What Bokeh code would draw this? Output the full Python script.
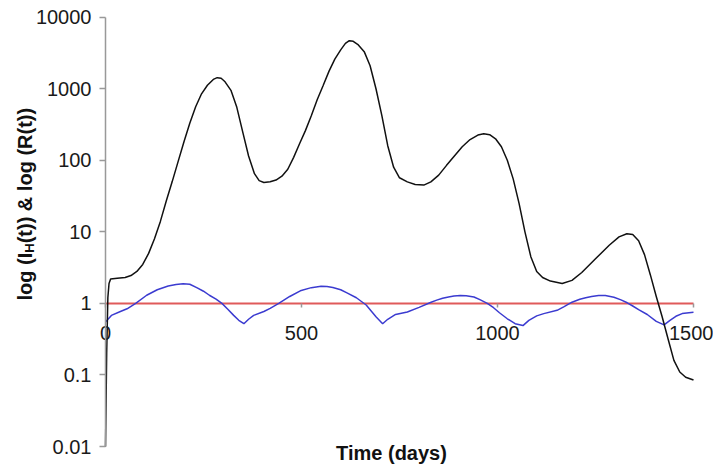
from bokeh.plotting import figure
from bokeh.models import Range1d, FixedTicker, Label
from bokeh.embed import file_html
from bokeh.resources import INLINE

# ---- data ----
t_ih = [0, 3, 6, 9, 13, 30, 50, 65, 80, 95, 110, 125, 140, 155, 170, 185, 200, 215,
        230, 245, 260, 275, 285, 295, 305, 320, 335, 350, 365, 380, 392, 404, 420, 435,
        450, 465, 480, 495, 510, 525, 540, 555, 570, 585, 600, 612, 622, 632, 645, 660,
        675, 690, 705, 720, 735, 750, 770, 790, 812, 830, 850, 870, 890, 910, 930, 950,
        965, 980, 995, 1010, 1025, 1040, 1055, 1070, 1085, 1100, 1115, 1135, 1165, 1190,
        1215, 1250, 1285, 1310, 1330, 1345, 1360, 1375, 1390, 1405, 1420, 1435, 1450,
        1465, 1480, 1500]
ih = [0.01, 0.2, 1.2, 1.9, 2.2, 2.25, 2.3, 2.45, 2.8, 3.5, 5.0, 8.0, 14, 27, 50, 95,
      180, 330, 560, 850, 1120, 1350, 1430, 1400, 1250, 950, 550, 250, 115, 65, 52, 49,
      50, 53, 60, 75, 110, 170, 260, 420, 700, 1100, 1750, 2600, 3500, 4300, 4700, 4600,
      4100, 3300, 2100, 1000, 420, 160, 80, 57, 50, 46, 45, 50, 62, 85, 115, 155, 195,
      225, 235, 228, 200, 155, 100, 55, 25, 10, 4.5, 2.8, 2.3, 2.05, 1.9, 2.1, 2.7, 4.2,
      6.5, 8.5, 9.4, 9.2, 7.5, 4.8, 2.5, 1.25, 0.65, 0.32, 0.16, 0.11, 0.093, 0.085]

t_r = [0, 15, 38, 55, 77, 105, 132, 160, 180, 198, 215, 234, 250, 265, 282, 297, 312,
       327, 340, 353, 365, 378, 404, 420, 442, 470, 497, 525, 550, 565, 580, 600, 616,
       640, 665, 690, 707, 720, 740, 770, 800, 829, 845, 860, 875, 889, 905, 920, 940,
       955, 974, 990, 1005, 1025, 1045, 1065, 1080, 1100, 1118, 1152, 1170, 1190, 1210,
       1225, 1240, 1258, 1275, 1297, 1315, 1331, 1345, 1360, 1382, 1405, 1425, 1440,
       1455, 1471, 1500]
r = [0.55, 0.68, 0.77, 0.84, 1.0, 1.3, 1.55, 1.75, 1.84, 1.88, 1.85, 1.65, 1.48, 1.3,
     1.15, 1.0, 0.83, 0.68, 0.58, 0.52, 0.6, 0.68, 0.77, 0.85, 1.0, 1.25, 1.5, 1.66, 1.73,
     1.72, 1.67, 1.55, 1.4, 1.2, 0.95, 0.65, 0.52, 0.6, 0.7, 0.76, 0.88, 1.03, 1.11,
     1.18, 1.23, 1.27, 1.29, 1.28, 1.23, 1.13, 1.0, 0.87, 0.74, 0.61, 0.52, 0.49, 0.58,
     0.67, 0.72, 0.8, 0.9, 1.04, 1.14, 1.2, 1.25, 1.29, 1.29, 1.22, 1.12, 1.02, 0.92,
     0.82, 0.7, 0.56, 0.5, 0.58, 0.66, 0.72, 0.75]

t_thr = [0, 1500]
thr = [1, 1]

x_ticks = [0, 500, 1000, 1500]
x_tick_labels = ["0", "500", "1000", "1500"]
y_ticks = [0.01, 0.1, 1, 10, 100, 1000, 10000]
y_tick_labels = ["0.01", "0.1", "1", "10", "100", "1000", "10000"]

FONT = "Liberation Sans"

# canvas geometry (pixels): the data box sits inside a frame that fills the canvas
W, H = 713, 466
left, top = 105, 16.7         # where x=0 and y=10000 fall
box_w, box_h = 588, 429.3
px_day = box_w / 1500
px_dec = box_h / 6
x0 = -left / px_day
x1 = (W - left) / px_day
y_hi = 10 ** (4 + top / px_dec)
y_lo = 10 ** (-2 - (H - top - box_h) / px_dec)

p = figure(width=W, height=H, y_axis_type="log",
           x_range=Range1d(x0, x1), y_range=Range1d(y_lo, y_hi),
           output_backend="svg", toolbar_location=None,
           min_border_left=0, min_border_right=0, min_border_top=0,
           min_border_bottom=0)
p.outline_line_color = None
p.xgrid.visible = False
p.ygrid.visible = False

ya = p.yaxis[0]
ya.fixed_location = 0
ya.bounds = (y_ticks[0], y_ticks[-1])
ya.ticker = FixedTicker(ticks=y_ticks)
ya.major_label_overrides = {v: s for v, s in zip(y_ticks, y_tick_labels)}
ya.minor_tick_line_color = None
ya.axis_line_color = "#999999"
ya.axis_line_width = 1.5
ya.major_tick_line_color = "#999999"
ya.major_tick_line_width = 1.5
ya.major_tick_out = 6
ya.major_tick_in = 0
ya.major_label_standoff = 8
ya.major_label_text_font = FONT
ya.major_label_text_font_size = "20px"
ya.major_label_text_color = "#1a1a1a"

xa = p.xaxis[0]
xa.fixed_location = 1
xa.bounds = (x_ticks[0], x_ticks[-1])
xa.ticker = FixedTicker(ticks=x_ticks)
xa.major_label_overrides = {v: s for v, s in zip(x_ticks, x_tick_labels)}
xa.minor_tick_line_color = None
xa.axis_line_color = None
xa.major_tick_line_color = "#999999"
xa.major_tick_line_width = 1.5
xa.major_tick_out = 4
xa.major_tick_in = 0
xa.major_label_standoff = 19
xa.major_label_text_font = FONT
xa.major_label_text_font_size = "20px"
xa.major_label_text_color = "#1a1a1a"

p.line(t_thr, thr, line_color="#e05a5a", line_width=2)
p.line(t_r, r, line_color="#3b3bd0", line_width=1.5)
p.line(t_ih, ih, line_color="#111111", line_width=1.5)

# x axis title
p.add_layout(Label(x=391, y=14, x_units="screen", y_units="screen", text="Time (days)",
                   text_align="center", text_baseline="alphabetic", text_font=FONT,
                   text_font_size="20px", text_font_style="bold", text_color="#111111"))

# y axis title with subscript H
ax = 24
y0 = H - 300
fs = 20
p.add_layout(Label(x=ax, y=y0, x_units="screen", y_units="screen", text="log (I",
                   angle=1.5707963, text_align="left", text_baseline="middle",
                   text_font=FONT, text_font_size=f"{fs}px", text_font_style="bold",
                   text_color="#111111"))
p.add_layout(Label(x=ax + 5, y=y0 + 2.389 * fs, x_units="screen", y_units="screen",
                   text="H", angle=1.5707963, text_align="left", text_baseline="middle",
                   text_font=FONT, text_font_size="13px", text_font_style="bold",
                   text_color="#111111"))
p.add_layout(Label(x=ax, y=y0 + 2.389 * fs + 0.722 * 13, x_units="screen",
                   y_units="screen", text="(t)) & log (R(t))", angle=1.5707963,
                   text_align="left", text_baseline="middle", text_font=FONT,
                   text_font_size=f"{fs}px", text_font_style="bold", text_color="#111111"))

open("out.html", "w").write(file_html(p, INLINE))
